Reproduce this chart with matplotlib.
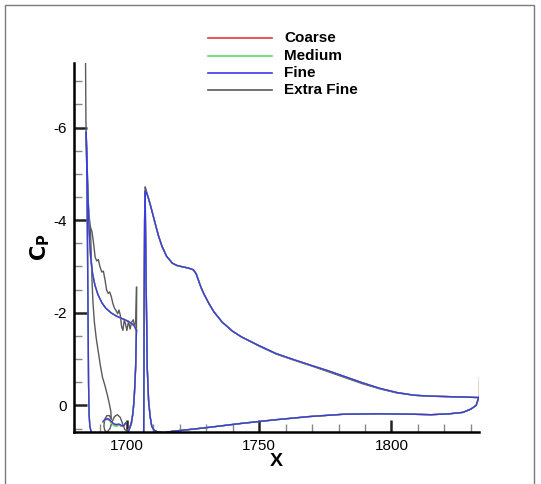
import matplotlib
matplotlib.use("Agg")
import matplotlib.pyplot as plt
from matplotlib.lines import Line2D
from matplotlib.patches import Rectangle
from matplotlib.ticker import MultipleLocator

plt.rcParams['font.family'] = ['Liberation Sans', 'DejaVu Sans']
plt.rcParams['axes.unicode_minus'] = False

# ---- data ----
labels = ["Coarse", "Medium", "Fine", "Extra Fine"]
colors = ["#e8393a", "#5fdc5f", "#3a3ae6", "#5a5a5a"]

# main element, shared by coarse / medium / fine
main_up_x = [1706.3, 1706.4, 1706.5, 1706.7, 1706.9, 1707.3, 1708.0, 1709.0, 1710.0,
             1711.0, 1712.0, 1713.3, 1715.0, 1717.2, 1719.0, 1721.2, 1723.0, 1725.1,
             1726.2, 1727.0, 1728.0, 1729.0, 1731.0, 1732.9, 1736.0, 1740.0, 1743.3,
             1750.0, 1756.4, 1763.0, 1769.4, 1776.0, 1782.5, 1789.0, 1795.5, 1802.0,
             1808.6, 1815.0, 1821.6, 1828.0, 1833.0]
main_up_cp = [0.9, 0.0, -2.0, -4.0, -4.62, -4.6, -4.5, -4.3, -4.08,
              -3.86, -3.65, -3.43, -3.22, -3.07, -3.02, -2.99, -2.97, -2.93,
              -2.84, -2.71, -2.55, -2.42, -2.2, -2.02, -1.8, -1.6, -1.48,
              -1.29, -1.12, -0.99, -0.87, -0.75, -0.62, -0.49, -0.37, -0.28,
              -0.22, -0.2, -0.19, -0.18, -0.17]
main_lo_x = [1706.9, 1707.0, 1707.3, 1707.7, 1708.2, 1708.8, 1709.4, 1710.2, 1711.5,
             1714.0, 1717.0, 1722.0, 1730.0, 1743.0, 1756.0, 1769.0, 1782.0, 1795.0,
             1808.0, 1815.0, 1822.0, 1827.0, 1830.0, 1832.0, 1833.0]
main_lo_cp = [-4.62, -4.0, -2.5, -0.8, -0.1, 0.25, 0.45, 0.53, 0.57,
              0.59, 0.56, 0.53, 0.48, 0.39, 0.31, 0.24, 0.19, 0.18,
              0.19, 0.2, 0.18, 0.15, 0.08, 0.0, -0.17]
xf_main_up_cp = [0.9, 0.0, -2.0, -4.1, -4.72, -4.65, -4.5, -4.3, -4.08,
                 -3.86, -3.65, -3.43, -3.22, -3.07, -3.02, -2.99, -2.97, -2.93,
                 -2.84, -2.71, -2.55, -2.42, -2.2, -2.02, -1.8, -1.6, -1.48,
                 -1.28, -1.11, -0.98, -0.86, -0.73, -0.6, -0.47, -0.36, -0.27,
                 -0.22, -0.2, -0.19, -0.18, -0.17]

# trailing-edge spikes of the main element
te_x = [1833.0, 1833.0]
coarse_te_cp = [-0.17, -0.62]
medium_te_cp = [-0.17, -0.5]

# slat, shared by coarse / medium / fine
slat_up_x = [1684.6, 1684.9, 1685.3, 1685.7, 1686.3, 1687.0, 1687.9, 1689.0, 1690.5,
             1692.0, 1694.0, 1696.0, 1698.0, 1700.0, 1701.5, 1702.8, 1703.6]
slat_up_cp = [-5.9, -5.3, -4.5, -3.8, -3.2, -2.85, -2.6, -2.4, -2.22,
              -2.1, -2.0, -1.93, -1.88, -1.83, -1.78, -1.72, -1.62]
slat_lo_x = [1684.6, 1684.9, 1685.1, 1685.3, 1685.5, 1685.7, 1686.0, 1686.6, 1687.5,
             1693.0, 1699.5, 1700.3, 1701.0, 1701.7, 1702.3, 1702.7, 1703.0, 1703.3,
             1703.6]
slat_lo_cp = [-5.9, -4.9, -3.5, -2.0, -0.5, 0.2, 0.45, 0.6, 0.8,
              0.9, 0.8, 0.6, 0.5, 0.39, 0.15, -0.11, -0.45, -0.83,
              -1.62]

# slat cove
cove_x = [1691.0, 1691.8, 1692.6, 1693.4, 1694.3, 1695.2, 1696.1, 1697.0, 1697.9,
          1698.8, 1699.5]
coarse_cove_cp = [0.36, 0.32, 0.28, 0.3, 0.37, 0.42, 0.44, 0.42, 0.45, 0.45, 0.38]
medium_cove_cp = [0.35, 0.31, 0.3, 0.33, 0.39, 0.44, 0.45, 0.43, 0.44, 0.44, 0.37]
fine_cove_cp = [0.34, 0.3, 0.29, 0.31, 0.36, 0.4, 0.41, 0.4, 0.43, 0.44, 0.38]

# extra fine slat
xf_up_x = [1684.3, 1684.5, 1684.8, 1685.2, 1685.7, 1686.2, 1686.8, 1687.4, 1688.0,
           1688.6, 1689.2, 1689.8, 1690.5, 1691.1, 1691.7, 1692.3, 1692.9, 1693.5,
           1694.1, 1694.7, 1695.3, 1695.9, 1696.5, 1697.0, 1697.5, 1698.0, 1698.5,
           1699.0, 1699.5, 1700.0, 1700.6, 1701.2, 1701.8, 1702.4, 1702.9, 1703.3,
           1703.6]
xf_up_cp = [-8.0, -6.2, -5.2, -4.6, -4.1, -3.85, -3.75, -3.5, -3.2,
            -3.12, -3.15, -3.0, -2.88, -2.9, -2.72, -2.5, -2.42, -2.45,
            -2.35, -2.2, -2.1, -2.05, -1.98, -2.06, -1.95, -1.7, -1.62,
            -1.85, -1.75, -1.62, -1.82, -1.65, -1.8, -1.85, -1.7, -1.8,
            -2.55]
xf_lo_x = [1686.2, 1686.5, 1686.8, 1687.2, 1687.7, 1688.4, 1689.2, 1690.0, 1690.8,
           1691.6, 1692.5, 1693.3, 1693.9, 1694.1, 1693.4, 1692.4, 1691.6, 1691.3,
           1691.7, 1692.6, 1693.6, 1694.4, 1695.3, 1696.4, 1697.5, 1698.4, 1699.2,
           1700.0, 1700.8, 1701.5, 1702.2, 1702.7, 1703.1, 1703.4, 1703.6, 1703.7]
xf_lo_cp = [-3.85, -3.3, -2.7, -2.2, -1.8, -1.45, -1.15, -0.85, -0.6,
            -0.45, -0.25, -0.05, 0.12, 0.3, 0.22, 0.22, 0.3, 0.45,
            0.55, 0.57, 0.5, 0.35, 0.24, 0.2, 0.26, 0.4, 0.52,
            0.55, 0.5, 0.4, 0.2, -0.1, -0.5, -1.0, -1.6, -2.55]

W, H = 541, 484
fig = plt.figure(figsize=(W / 100, H / 100), dpi=100)
ax = fig.add_axes([74 / W, 1 - 432.3 / H, (479 - 74) / W, (432.3 - 62.7) / H])

lw = 1.0
# extra fine first, the other grids on top
ax.plot(xf_up_x, xf_up_cp, color=colors[3], lw=lw)
ax.plot(xf_lo_x, xf_lo_cp, color=colors[3], lw=lw)
ax.plot(main_up_x, xf_main_up_cp, color=colors[3], lw=lw)
ax.plot(main_lo_x, main_lo_cp, color=colors[3], lw=lw)

cove_cps = [coarse_cove_cp, medium_cove_cp, fine_cove_cp]
te_cps = [coarse_te_cp, medium_te_cp, None]
for i in range(3):
    c = colors[i]
    ax.plot(slat_up_x, slat_up_cp, color=c, lw=lw)
    ax.plot(slat_lo_x, slat_lo_cp, color=c, lw=lw)
    ax.plot(cove_x, cove_cps[i], color=c, lw=lw)
    ax.plot(main_up_x, main_up_cp, color=c, lw=lw)
    ax.plot(main_lo_x, main_lo_cp, color=c, lw=lw)
    if te_cps[i] is not None:
        ax.plot(te_x, te_cps[i], color=c, lw=lw)

ax.set_xlim(1680, 1833.1)
ax.set_ylim(0.58, -7.4)
ax.xaxis.set_major_locator(MultipleLocator(50))
ax.xaxis.set_minor_locator(MultipleLocator(10))
ax.yaxis.set_major_locator(MultipleLocator(2))
ax.yaxis.set_minor_locator(MultipleLocator(0.5))

for s in ["top", "right"]:
    ax.spines[s].set_visible(False)
for s in ["left", "bottom"]:
    ax.spines[s].set_linewidth(1.8)
ax.tick_params(which="major", direction="in", length=9, width=1.8, color="#222222",
               labelsize=11, pad=5)
ax.tick_params(which="minor", direction="in", length=5.5, width=1.0, color="#888888")

ax.set_xlabel("X", fontsize=14, fontweight="bold", labelpad=0)
ax.set_ylabel(r"$\mathbf{C_P}$", fontsize=15, labelpad=1)

# legend
leg_y = [38.3, 55.7, 73.0, 90.3]
for i, lab in enumerate(labels):
    y = 1 - leg_y[i] / H
    fig.add_artist(Line2D([208 / W, 271.7 / W], [y, y], color=colors[i], lw=1.2))
    fig.text(284 / W, y, lab, fontsize=11, fontweight="bold", va="center", ha="left")

# thin frame around the picture
fig.add_artist(Rectangle((5 / W, -0.1), (534 - 5) / W, 1.1 - 5 / H, fill=False,
                         edgecolor="#7a7a7a", lw=1.0, transform=fig.transFigure))

fig.savefig("out.png", dpi=100)
